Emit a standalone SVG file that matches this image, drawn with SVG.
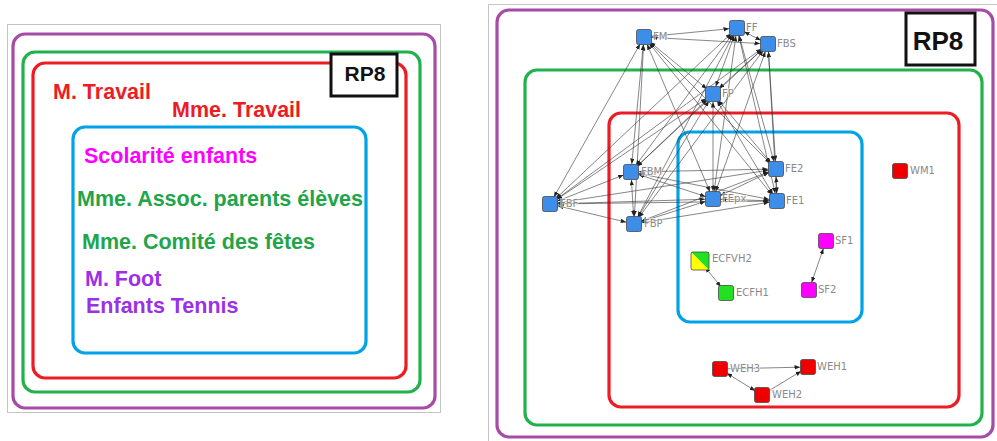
<svg xmlns="http://www.w3.org/2000/svg" width="997" height="441" viewBox="0 0 997 441">
<style>
.frame{fill:none;stroke:#c4c4c4;stroke-width:1}
.bx{fill:none;stroke-width:3.2}
.pu{stroke:#a64ca6}.gr{stroke:#22b14c}.rd{stroke:#ed1c24}.bl{stroke:#00a2e8}
.t{font-family:"Liberation Sans",Arial,sans-serif;font-weight:bold;font-size:21.5px}
.rp{fill:#fff;stroke:#111;stroke-width:3}
.rpt{font-family:"Liberation Sans",Arial,sans-serif;font-weight:bold;fill:#111;text-anchor:middle}
.e{stroke:#333;stroke-width:0.7;stroke-opacity:0.85;fill:none;marker-start:url(#ah);marker-end:url(#ah)}
.e1{stroke:#333;stroke-width:0.7;stroke-opacity:0.85;fill:none;marker-end:url(#ah)}
.n rect{stroke:#4a4a4a;stroke-width:0.8}
.nb{fill:#3d8ee8}.nr{fill:#ee0000}.nm{fill:#ff00ff}.ng{fill:#22e022}
.lb{font-family:"DejaVu Sans",Verdana,sans-serif;font-size:10px;fill:#8a8a8a;stroke:#fff;stroke-width:1.6;stroke-opacity:0.7;paint-order:stroke}
</style>
<defs>
<marker id="ah" markerUnits="userSpaceOnUse" markerWidth="6" markerHeight="5" refX="13.5" refY="2.2" orient="auto-start-reverse">
<path d="M0,0 L5.5,2.2 L0,4.4 z" fill="#222"/>
</marker>
</defs>
<rect width="997" height="441" fill="#fff"/>

<!-- LEFT PANEL -->
<g id="left-panel">
<rect class="frame" x="7.5" y="24.5" width="433" height="388"/>
<rect class="bx pu" x="13" y="34" width="422" height="374" rx="12"/>
<rect class="bx gr" x="23" y="52" width="397" height="340" rx="12"/>
<rect class="bx rd" x="33" y="63" width="373" height="315" rx="12"/>
<rect class="bx bl" x="73" y="127" width="293" height="226" rx="12"/>
<g id="left-rp8">
<rect class="rp" x="331" y="54" width="66" height="42"/>
<text class="rpt" x="365" y="81" font-size="21">RP8</text>
</g>
<text class="t" x="53" y="99" fill="#ed1c24">M. Travail</text>
<text class="t" x="172" y="117" fill="#ed1c24">Mme. Travail</text>
<text class="t" x="84" y="163" fill="#ff00ff">Scolarité enfants</text>
<text class="t" x="77" y="206" fill="#22a54a">Mme. Assoc. parents élèves</text>
<text class="t" x="82" y="249" fill="#22a54a">Mme. Comité des fêtes</text>
<text class="t" x="85" y="286" fill="#9b30e8">M. Foot</text>
<text class="t" x="86" y="313" fill="#9b30e8">Enfants Tennis</text>
</g>

<!-- RIGHT PANEL -->
<g id="right-frames">
<path class="frame" d="M488.5,441 V4.5 H997"/>
<rect class="bx pu" x="497" y="10" width="496" height="427" rx="12" stroke-width="3.5"/>
<rect class="bx gr" x="525" y="70" width="457" height="355" rx="12" stroke-width="3.5"/>
<rect class="bx rd" x="609" y="113" width="350" height="294" rx="12" stroke-width="3.5"/>
<rect class="bx bl" x="678" y="132" width="184" height="190" rx="12" stroke-width="3.5"/>
<g id="right-rp8">
<rect class="rp" x="906" y="13" width="69" height="52" stroke-width="2.5"/>
<text class="rpt" x="938" y="50" font-size="26">RP8</text>
</g>
</g>

<g id="connectors">
<line class="e" x1="644" y1="37" x2="737" y2="28"/>
<line class="e" x1="644" y1="37" x2="768" y2="44"/>
<line class="e" x1="644" y1="37" x2="713" y2="94"/>
<line class="e" x1="644" y1="37" x2="631" y2="172"/>
<line class="e" x1="644" y1="37" x2="550" y2="204"/>
<line class="e" x1="644" y1="37" x2="634" y2="224"/>
<line class="e" x1="644" y1="37" x2="713" y2="199"/>
<line class="e" x1="644" y1="37" x2="776" y2="169"/>
<line class="e" x1="644" y1="37" x2="777" y2="201"/>
<line class="e" x1="737" y1="28" x2="768" y2="44"/>
<line class="e" x1="737" y1="28" x2="713" y2="94"/>
<line class="e" x1="737" y1="28" x2="631" y2="172"/>
<line class="e" x1="737" y1="28" x2="550" y2="204"/>
<line class="e" x1="737" y1="28" x2="634" y2="224"/>
<line class="e" x1="737" y1="28" x2="713" y2="199"/>
<line class="e" x1="737" y1="28" x2="776" y2="169"/>
<line class="e" x1="737" y1="28" x2="777" y2="201"/>
<line class="e" x1="768" y1="44" x2="713" y2="94"/>
<line class="e" x1="768" y1="44" x2="631" y2="172"/>
<line class="e" x1="768" y1="44" x2="550" y2="204"/>
<line class="e" x1="768" y1="44" x2="634" y2="224"/>
<line class="e" x1="768" y1="44" x2="713" y2="199"/>
<line class="e" x1="768" y1="44" x2="776" y2="169"/>
<line class="e" x1="768" y1="44" x2="777" y2="201"/>
<line class="e" x1="713" y1="94" x2="631" y2="172"/>
<line class="e" x1="713" y1="94" x2="550" y2="204"/>
<line class="e" x1="713" y1="94" x2="634" y2="224"/>
<line class="e" x1="713" y1="94" x2="713" y2="199"/>
<line class="e" x1="713" y1="94" x2="776" y2="169"/>
<line class="e" x1="713" y1="94" x2="777" y2="201"/>
<line class="e" x1="631" y1="172" x2="550" y2="204"/>
<line class="e" x1="631" y1="172" x2="634" y2="224"/>
<line class="e" x1="631" y1="172" x2="713" y2="199"/>
<line class="e" x1="631" y1="172" x2="776" y2="169"/>
<line class="e" x1="631" y1="172" x2="777" y2="201"/>
<line class="e" x1="550" y1="204" x2="634" y2="224"/>
<line class="e" x1="550" y1="204" x2="713" y2="199"/>
<line class="e" x1="550" y1="204" x2="776" y2="169"/>
<line class="e" x1="550" y1="204" x2="777" y2="201"/>
<line class="e" x1="634" y1="224" x2="713" y2="199"/>
<line class="e" x1="634" y1="224" x2="776" y2="169"/>
<line class="e" x1="634" y1="224" x2="777" y2="201"/>
<line class="e" x1="713" y1="199" x2="776" y2="169"/>
<line class="e" x1="713" y1="199" x2="777" y2="201"/>
<line class="e" x1="776" y1="169" x2="777" y2="201"/>
<line class="e" x1="700" y1="261" x2="726" y2="293"/>
<line class="e" x1="826" y1="241" x2="809" y2="290"/>
<line class="e1" x1="720" y1="369" x2="808" y2="367"/>
<line class="e" x1="720" y1="369" x2="762" y2="395"/>
<line class="e1" x1="762" y1="395" x2="808" y2="367"/>
</g>

<g id="FM" class="n"><rect class="nb" x="636.5" y="29.5" width="15" height="15" rx="2"/><text class="lb" x="653" y="40">FM</text></g>
<g id="FF" class="n"><rect class="nb" x="729.5" y="20.5" width="15" height="15" rx="2"/><text class="lb" x="746" y="31">FF</text></g>
<g id="FBS" class="n"><rect class="nb" x="760.5" y="36.5" width="15" height="15" rx="2"/><text class="lb" x="777" y="47">FBS</text></g>
<g id="FP" class="n"><rect class="nb" x="705.5" y="86.5" width="15" height="15" rx="2"/><text class="lb" x="722" y="97">FP</text></g>
<g id="FBM" class="n"><rect class="nb" x="623.5" y="164.5" width="15" height="15" rx="2"/><text class="lb" x="641" y="175">FBM</text></g>
<g id="FBF" class="n"><rect class="nb" x="542.5" y="196.5" width="15" height="15" rx="2"/><text class="lb" x="560" y="207">FBF</text></g>
<g id="FBP" class="n"><rect class="nb" x="626.5" y="216.5" width="15" height="15" rx="2"/><text class="lb" x="644" y="227">FBP</text></g>
<g id="FEpx" class="n"><rect class="nb" x="705.5" y="191.5" width="15" height="15" rx="2"/><text class="lb" x="722" y="202">FEpx</text></g>
<g id="FE2" class="n"><rect class="nb" x="768.5" y="161.5" width="15" height="15" rx="2"/><text class="lb" x="785" y="172">FE2</text></g>
<g id="FE1" class="n"><rect class="nb" x="769.5" y="193.5" width="15" height="15" rx="2"/><text class="lb" x="786" y="204">FE1</text></g>
<g id="WM1" class="n"><rect class="nr" x="892.5" y="163.5" width="15" height="15" rx="2"/><text class="lb" x="910" y="174">WM1</text></g>
<g id="ECFVH2" class="n">
<polygon points="691,252 709,252 709,270" fill="#22e022"/>
<polygon points="691,252 691,270 709,270" fill="#ffff00"/>
<rect x="691" y="252" width="18" height="18" rx="2" fill="none"/>
<text class="lb" x="712" y="262">ECFVH2</text></g>
<g id="ECFH1" class="n"><rect class="ng" x="718.5" y="285.5" width="15" height="15" rx="2"/><text class="lb" x="736" y="296">ECFH1</text></g>
<g id="SF1" class="n"><rect class="nm" x="818.5" y="233.5" width="15" height="15" rx="2"/><text class="lb" x="835" y="244">SF1</text></g>
<g id="SF2" class="n"><rect class="nm" x="801.5" y="282.5" width="15" height="15" rx="2"/><text class="lb" x="818" y="293">SF2</text></g>
<g id="WEH3" class="n"><rect class="nr" x="712.5" y="361.5" width="15" height="15" rx="2"/><text class="lb" x="730" y="372">WEH3</text></g>
<g id="WEH1" class="n"><rect class="nr" x="800.5" y="359.5" width="15" height="15" rx="2"/><text class="lb" x="817" y="370">WEH1</text></g>
<g id="WEH2" class="n"><rect class="nr" x="754.5" y="387.5" width="15" height="15" rx="2"/><text class="lb" x="772" y="398">WEH2</text></g>
</svg>
